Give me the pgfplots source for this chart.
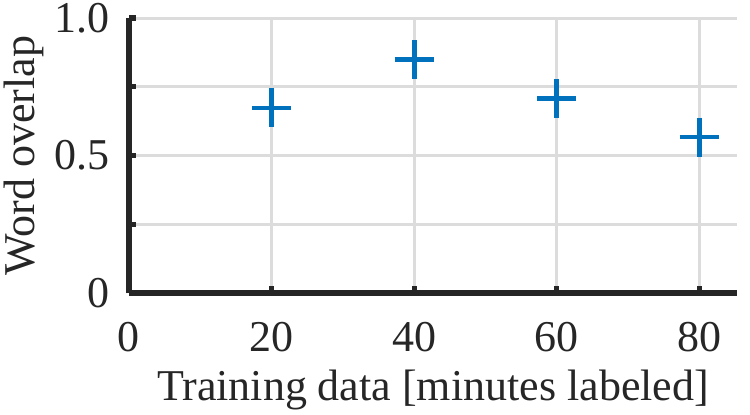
\documentclass[border=0pt]{standalone}
\usepackage{fontspec}
\setmainfont{Liberation Serif}
\usepackage{pgfplots}
\pgfplotsset{compat=1.18}
\definecolor{mblue}{HTML}{0072BD}
\definecolor{gridgray}{HTML}{DCDCDC}
\definecolor{txt}{HTML}{262626}
\begin{document}
\begin{tikzpicture}
\begin{axis}[
  scale only axis,
  width=304bp, height=137.5bp,
  at={(0,0)}, anchor=south west,
  xmin=0, xmax=85.3, ymin=0, ymax=1,
  axis x line*=bottom, axis y line*=left,
  x axis line style={-}, y axis line style={-},
  axis line style={line width=2.7bp, color=txt},
  xtick={0,20,40,60,80},
  xticklabels={0,20,40,60,80},
  ytick={0,0.25,0.5,0.75,1},
  yticklabels={0,,0.5,,1.0},
  xtick align=inside, ytick align=inside,
  major tick length=3.5bp,
  tick style={line width=2.6bp, color=txt},
  grid=major,
  major grid style={line width=1.5bp, color=gridgray},
  xticklabel style={font=\fontsize{22bp}{26bp}\selectfont, color=txt, anchor=base, inner sep=0pt, yshift=-29bp},
  yticklabel style={font=\fontsize{22bp}{26bp}\selectfont, color=txt, anchor=east, inner sep=0pt, xshift=-9.5bp},
  xlabel={Training data [minutes labeled]},
  ylabel={Word overlap},
  xlabel style={font=\fontsize{22bp}{26bp}\selectfont, color=txt, at={(axis description cs:0.5,0)}, anchor=base, inner sep=0pt, yshift=-53.5bp},
  ylabel style={font=\fontsize{22bp}{26bp}\selectfont, color=txt, at={(axis description cs:-0.1546,0.5)}, anchor=base, inner sep=0pt},
  clip=false,
]
\addplot[only marks, mark=+, mark size=9.75bp, mark options={line width=2.4bp, color=mblue}]
  coordinates {(20,0.673) (40,0.848) (60,0.708) (80,0.567)};
\end{axis}
\pgfresetboundingbox
\path (-64.5bp,-61bp) rectangle (310.5bp,146.5bp);
\end{tikzpicture}
\end{document}
